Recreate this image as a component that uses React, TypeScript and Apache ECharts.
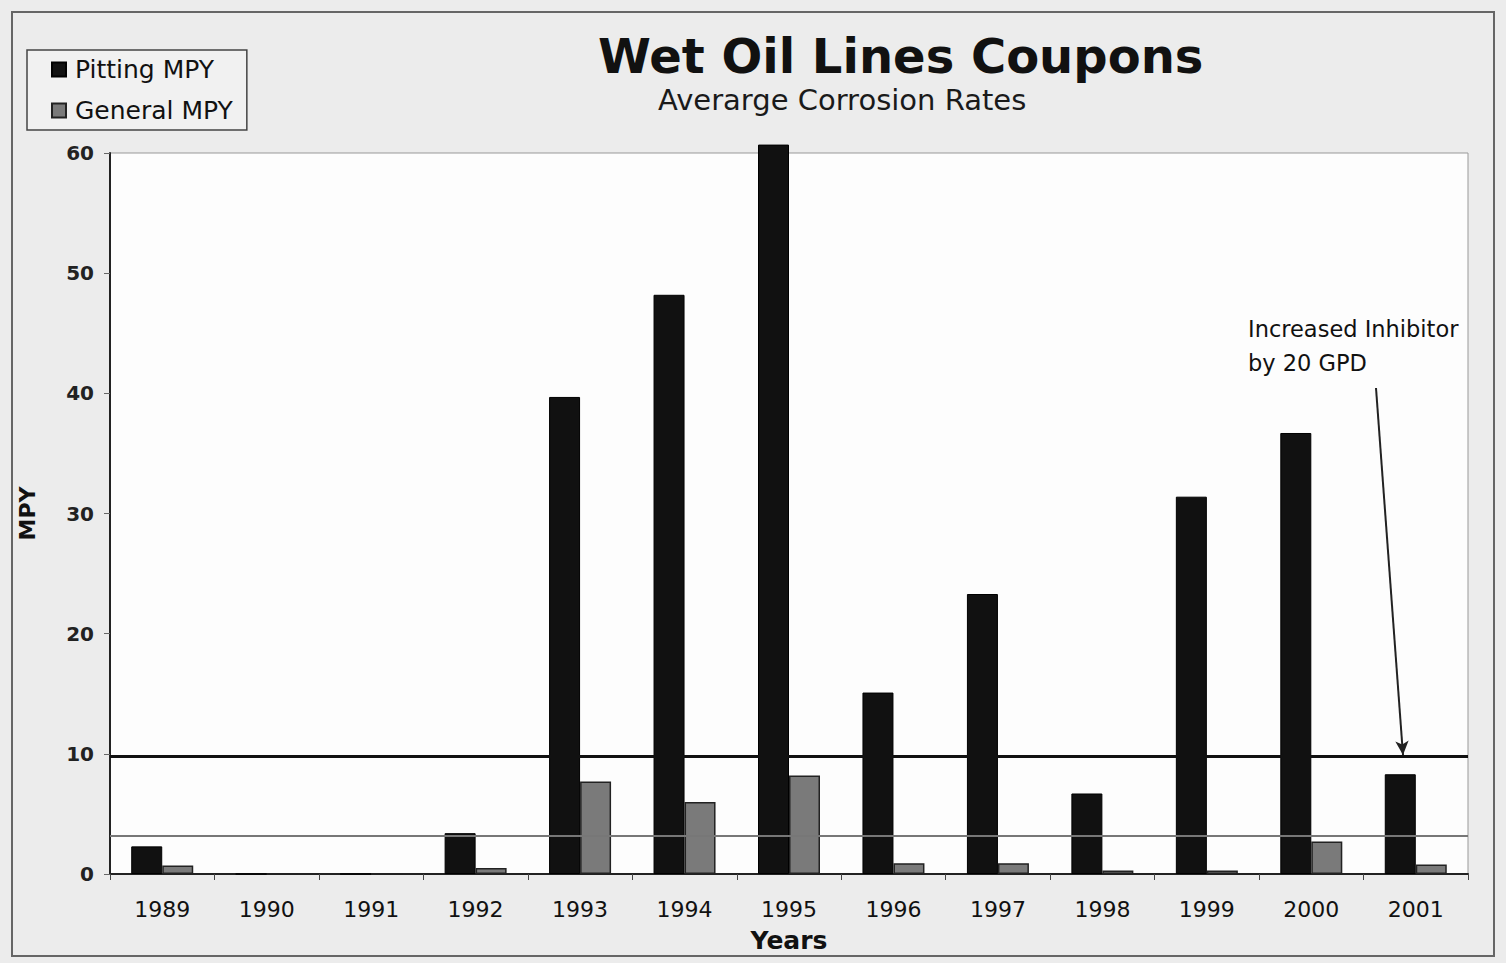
import React, { useEffect, useRef } from "react";
import * as echarts from "echarts";

const years = ["1989", "1990", "1991", "1992", "1993", "1994", "1995", "1996", "1997", "1998", "1999", "2000", "2001"];
const pittingMPY = [2.3, 0, 0, 3.4, 39.7, 48.2, 60.7, 15.1, 23.3, 6.7, 31.4, 36.7, 8.3];
const generalMPY = [0.7, 0, 0, 0.5, 7.7, 6.0, 8.2, 0.9, 0.9, 0.3, 0.3, 2.7, 0.8];
const yTicks = [0, 10, 20, 30, 40, 50, 60];
const limitHigh = 9.8;
const limitLow = 3.2;

const FONT = "'DejaVu Sans', Verdana, sans-serif";

export default function App() {
  const ref = useRef<HTMLDivElement>(null);
  useEffect(() => {
    if (!ref.current) return;
    const chart = echarts.init(ref.current, undefined, { renderer: "svg" });
    chart.setOption({
      animation: false,
      backgroundColor: "#ececec",
      textStyle: { fontFamily: FONT },
      title: [
        {
          text: "Wet Oil Lines Coupons",
          left: 598,
          top: 32,
          padding: 0,
          textStyle: { fontSize: 48, fontWeight: "bold", color: "#111", fontFamily: FONT },
        },
        {
          text: "Averarge Corrosion Rates",
          left: 658,
          top: 85,
          padding: 0,
          textStyle: { fontSize: 29, fontWeight: "normal", color: "#1a1a1a", fontFamily: FONT },
        },
      ],
      legend: {
        orient: "vertical",
        left: 27,
        top: 50,
        padding: [7, 14, 7, 24],
        itemGap: 16,
        itemWidth: 14,
        itemHeight: 14,
        icon: "rect",
        borderColor: "#444",
        borderWidth: 1.5,
        backgroundColor: "#f1f1f1",
        textStyle: { fontSize: 25, color: "#111", fontFamily: FONT, padding: [0, 0, 0, 4] },
        data: ["Pitting MPY", "General MPY"],
      },
      grid: {
        left: 110,
        right: 38,
        top: 153,
        bottom: 89,
        show: true,
        backgroundColor: "#fdfdfd",
        borderColor: "#999",
        borderWidth: 1,
      },
      xAxis: {
        type: "category",
        data: years,
        name: "Years",
        nameLocation: "middle",
        nameGap: 54,
        nameTextStyle: { fontSize: 25, fontWeight: "bold", color: "#111", fontFamily: FONT },
        axisLine: { lineStyle: { color: "#222", width: 2 } },
        axisTick: { show: true, length: 6, lineStyle: { color: "#444" } },
        axisLabel: { fontSize: 22, color: "#111", margin: 24, fontFamily: FONT },
      },
      yAxis: {
        type: "value",
        min: 0,
        max: 60,
        interval: 10,
        name: "MPY",
        nameLocation: "middle",
        nameRotate: 90,
        nameGap: 72,
        nameTextStyle: { fontSize: 22, fontWeight: "bold", color: "#111", fontFamily: FONT },
        axisLine: { show: true, lineStyle: { color: "#222", width: 2 } },
        axisTick: { show: true, length: 6, lineStyle: { color: "#666" } },
        splitLine: { show: false },
        axisLabel: {
          fontSize: 20,
          fontWeight: "bold",
          color: "#222",
          margin: 16,
          fontFamily: FONT,
          formatter: (v: number) => (yTicks.includes(v) ? String(v) : ""),
        },
      },
      series: [
        {
          name: "Pitting MPY",
          type: "bar",
          data: pittingMPY,
          barWidth: 31,
          barGap: "0%",
          clip: false,
          itemStyle: { color: "#111", borderColor: "#000", borderWidth: 1 },
          markLine: {
            silent: true,
            symbol: ["none", "none"],
            label: { show: false },
            data: [
              { yAxis: limitHigh, lineStyle: { color: "#111", width: 3, type: "solid" } },
              { yAxis: limitLow, lineStyle: { color: "#777", width: 2, type: "solid" } },
            ],
          },
        },
        {
          name: "General MPY",
          type: "bar",
          data: generalMPY,
          barWidth: 31,
          barGap: "0%",
          itemStyle: { color: "#7a7a7a", borderColor: "#222", borderWidth: 1.5 },
          markLine: {
            silent: true,
            symbol: ["none", "arrow"],
            symbolSize: [10, 14],
            label: { show: false },
            lineStyle: { color: "#222", width: 2, type: "solid" },
            data: [[{ x: 1376, y: 388 }, { x: 1403, y: 755 }]],
          },
        },
      ],
      graphic: [
        {
          type: "rect",
          shape: { x: 12, y: 12, width: 1482, height: 944 },
          style: { fill: "none", stroke: "#666", lineWidth: 2 },
          silent: true,
          z: 0,
        },
        {
          type: "text",
          left: 1248,
          top: 312,
          style: {
            text: "Increased Inhibitor\nby 20 GPD",
            fontSize: 22.5,
            lineHeight: 34,
            fill: "#111",
            fontFamily: FONT,
          },
          z: 10,
        },
      ],
    });
    return () => chart.dispose();
  }, []);
  return <div ref={ref} style={{ position: "absolute", left: 0, top: 0, width: 1506, height: 963 }} />;
}
